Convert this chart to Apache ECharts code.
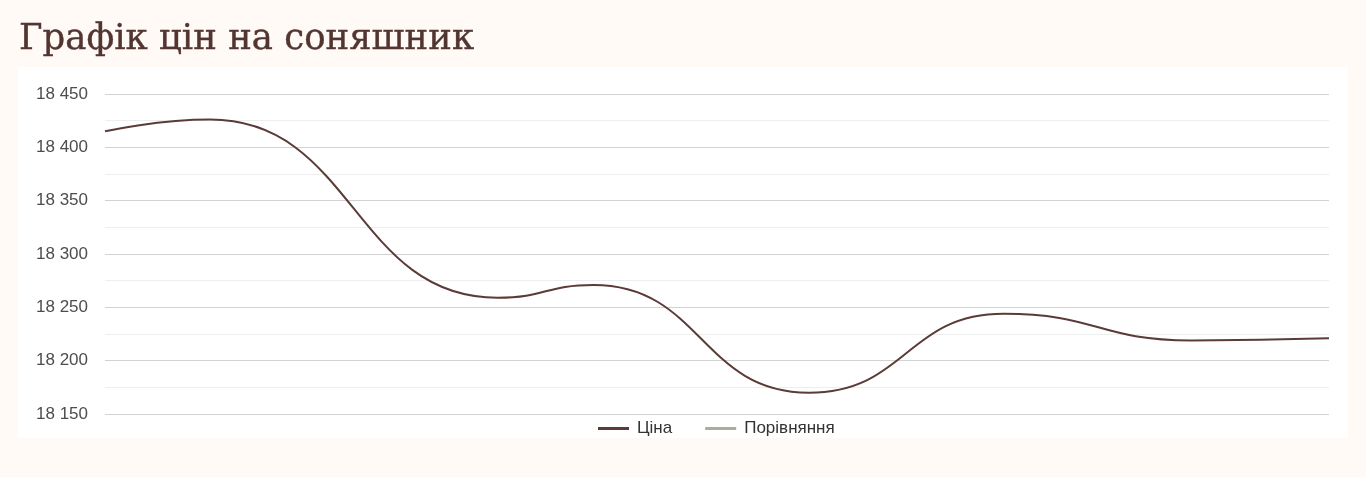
<!DOCTYPE html>
<html>
<head>
<meta charset="utf-8">
<script src="https://cdn.jsdelivr.net/npm/echarts@6/dist/echarts.min.js"></script>
<style>
  html, body { margin: 0; padding: 0; background: #fffaf6; }
  #panel { position: absolute; left: 18px; top: 67px; width: 1330px; height: 371px; background: #ffffff; }
  #chart { position: absolute; left: 0; top: 0; width: 1366px; height: 477px; }
</style>
</head>
<body>
<div id="panel"></div>
<div id="chart"></div>
<script>
// Data
const titleText = 'Графік цін на соняшник';
const seriesNames = ['Ціна', 'Порівняння'];
// x positions (in period units along the hidden horizontal axis)
const periods = [0, 1.03, 3.85, 4.79, 6.9, 8.81, 10.65, 12];
const prices = [18415, 18426, 18259, 18271, 18170, 18244, 18219, 18221];
const comparison = [];
const yTicks = [18150, 18200, 18250, 18300, 18350, 18400, 18450];

const chart = echarts.init(document.getElementById('chart'), null, { renderer: 'canvas' });

function fmt(v) {
  return String(v).replace(/\B(?=(\d{3})+(?!\d))/g, ' ');
}

chart.setOption({
  backgroundColor: 'transparent',
  animation: false,
  title: {
    text: titleText,
    left: 14,
    top: 17,
    textStyle: {
      fontFamily: 'DejaVu Serif',
      fontSize: 35.5,
      fontWeight: 'normal',
      color: '#523430',
      textBorderColor: '#523430',
      textBorderWidth: 0.4
    }
  },
  legend: {
    data: [
      { name: seriesNames[0], icon: 'rect', itemStyle: { color: '#5b3b37' } },
      { name: seriesNames[1], icon: 'rect', itemStyle: { color: '#a9ad9a' } }
    ],
    left: 593,
    top: 415,
    itemWidth: 31,
    itemHeight: 3,
    itemGap: 33,
    textStyle: { fontFamily: 'Liberation Sans, Arial', fontSize: 17, color: '#333333', padding: [0, 0, 0, 3] }
  },
  grid: { left: 105, right: 37, top: 94, bottom: 63 },
  xAxis: {
    type: 'value',
    min: periods[0],
    max: periods[periods.length - 1],
    show: false,
    splitLine: { show: false }
  },
  yAxis: {
    type: 'value',
    min: yTicks[0],
    max: yTicks[yTicks.length - 1],
    interval: 50,
    axisLine: { show: false },
    axisTick: { show: false },
    axisLabel: {
      formatter: fmt,
      margin: 17,
      fontFamily: 'Liberation Sans, Arial',
      fontSize: 17,
      color: '#4d4d4d'
    },
    splitLine: { show: true, lineStyle: { color: '#d2d2d2', width: 1 } },
    minorTick: { show: false, splitNumber: 2 },
    minorSplitLine: { show: true, lineStyle: { color: '#eeeeee', width: 1 } }
  },
  series: [
    {
      name: seriesNames[0],
      type: 'line',
      data: periods.map((p, i) => [p, prices[i]]),
      smooth: 0.5,
      smoothMonotone: 'x',
      showSymbol: false,
      symbol: 'none',
      lineStyle: { color: '#5b3b37', width: 2 },
      itemStyle: { color: '#5b3b37' }
    },
    {
      name: seriesNames[1],
      type: 'line',
      data: comparison,
      showSymbol: false,
      symbol: 'none',
      lineStyle: { color: '#a9ad9a', width: 2 },
      itemStyle: { color: '#a9ad9a' }
    }
  ]
});
</script>
</body>
</html>
